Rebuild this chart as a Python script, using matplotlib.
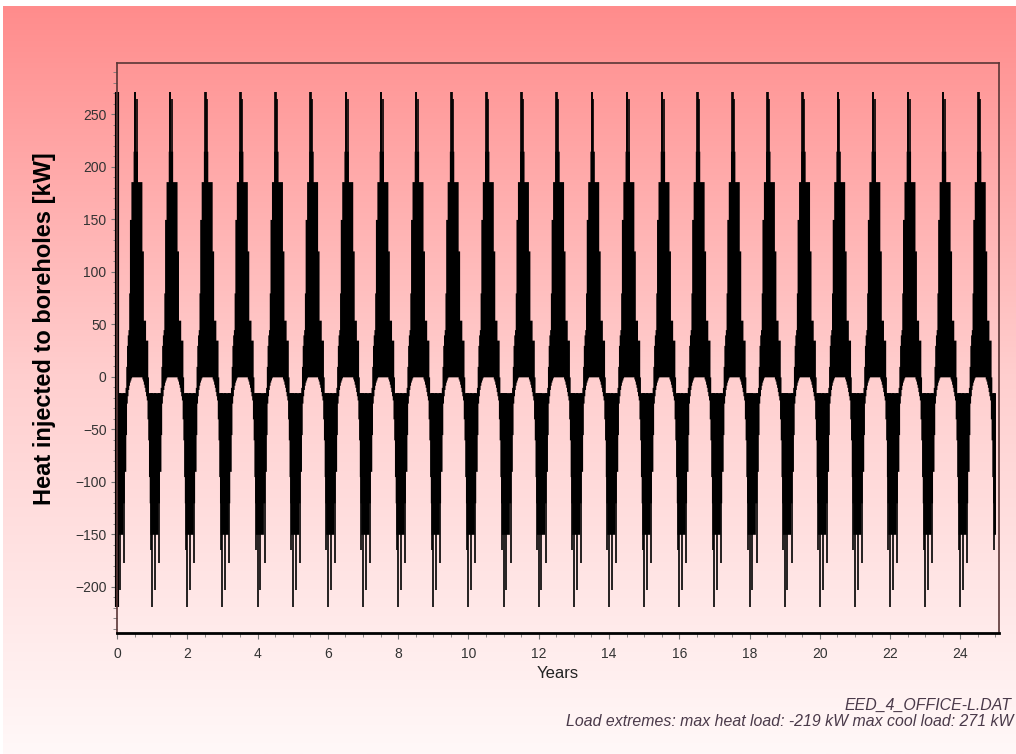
import numpy as np
import matplotlib
matplotlib.use("Agg")
import matplotlib.pyplot as plt
from matplotlib.colors import LinearSegmentedColormap
from matplotlib.ticker import MultipleLocator

plt.rcParams['font.family'] = ['Liberation Sans', 'DejaVu Sans']

# Jahresprofil in 48 Abschnitten (ca. 1 Woche), Werte in kW, jedes Jahr gleich
n_years = 25
load_max = [-15, -15, -15, -15, -15, -15, -15, -15, -15, -15, -15, -10,
            10, 30, 40, 45, 80, 150, 150, 186, 186, 186, 215, 215,
            215, 215, 215, 215, 186, 186, 186, 186, 186, 186, 120, 120,
            54, 54, 54, 35, 35, 35, 0, -15, -15, -15, -15, -15]
load_min = [-150, -150, -150, -150, -150, -150, -150, -150, -120, -120, -90, -90,
            -55, -25, -18, -12, -8, -5, -3, -1, 0, 0, 0, 0,
            0, 0, 0, 0, 0, 0, 0, 0, 0, 0, -2, -4,
            -7, -10, -14, -18, -22, -40, -60, -95, -120, -150, -150, -150]
# Spitzenlasten innerhalb eines Jahres (Position als Jahresanteil, Wert in kW)
peak_pos = [0.0, 0.08, 0.2, 0.505, 0.52, 0.56, 0.955]
peak_val = [-219, -203, -177, 271, 271, 265, -165]

fig = plt.figure(figsize=(10.16, 7.54), dpi=100)

# Hintergrund mit Farbverlauf
bg = fig.add_axes([3 / 1016, 0, 1 - 3 / 1016, 1 - 6 / 754])
cmap = LinearSegmentedColormap.from_list('bg', ['#fff8f8', '#ffcfcf', '#ff8c8c'])
bg.imshow(np.linspace(0, 1, 256).reshape(-1, 1), aspect='auto', cmap=cmap,
          origin='lower', extent=[0, 1, 0, 1])
bg.axis('off')

ax = fig.add_axes([117 / 1016, 121 / 754, 882 / 1016, 570 / 754])
ax.patch.set_alpha(0)

nb = len(load_max)
x = np.arange(n_years * nb + 1) / nb
hi = np.tile(load_max, n_years)
lo = np.tile(load_min, n_years)
hi = np.append(hi, hi[-1])
lo = np.append(lo, lo[-1])
ax.fill_between(x, lo, hi, step='post', color='black', lw=0)

px = np.array([y + p for y in range(n_years) for p in peak_pos])
pv = np.array(peak_val * n_years)
start = np.where(pv > 0, 0, -15)
ax.vlines(px, start, pv, color='black', lw=1.2)
# erster Zeitschritt: Sprung von max. Heiz- zu max. Kuehllast
ax.vlines(0.01, min(peak_val), max(peak_val), color='black', lw=3, clip_on=False)

ax.set_xlim(0, 25.1)
ax.set_ylim(-244, 299)
ax.xaxis.set_major_locator(MultipleLocator(2))
ax.xaxis.set_minor_locator(MultipleLocator(0.5))
ax.yaxis.set_major_locator(MultipleLocator(50))
ax.yaxis.set_minor_locator(MultipleLocator(10))
ax.tick_params(which='both', direction='out', color='#777777', labelsize=10,
               labelcolor='#333333')
ax.tick_params(which='major', length=4)
ax.tick_params(which='minor', length=3)
ax.tick_params(axis='x', pad=6)

ax.spines['bottom'].set_linewidth(2)
ax.spines['bottom'].set_color('black')
for s in ['top', 'right', 'left']:
    ax.spines[s].set_linewidth(1.2)
    ax.spines[s].set_color('#5a3535')

ax.set_xlabel('Years', fontsize=12, color='#222222', labelpad=4)
fig.text(45 / 1016, 1 - 329 / 754, 'Heat injected to boreholes [kW]', rotation=90,
         fontsize=17, fontweight='bold', ha='center', va='center')

fig.text(1012 / 1016, 1 - 705 / 754, 'EED_4_OFFICE-L.DAT', fontsize=11.4,
         style='italic', color='#4a3a4a', ha='right', va='center')
fig.text(1013 / 1016, 1 - 722 / 754,
         'Load extremes: max heat load: -219 kW max cool load: 271 kW',
         fontsize=11.4, style='italic', color='#4a3a4a', ha='right', va='center')

fig.savefig('out.png', dpi=100)
